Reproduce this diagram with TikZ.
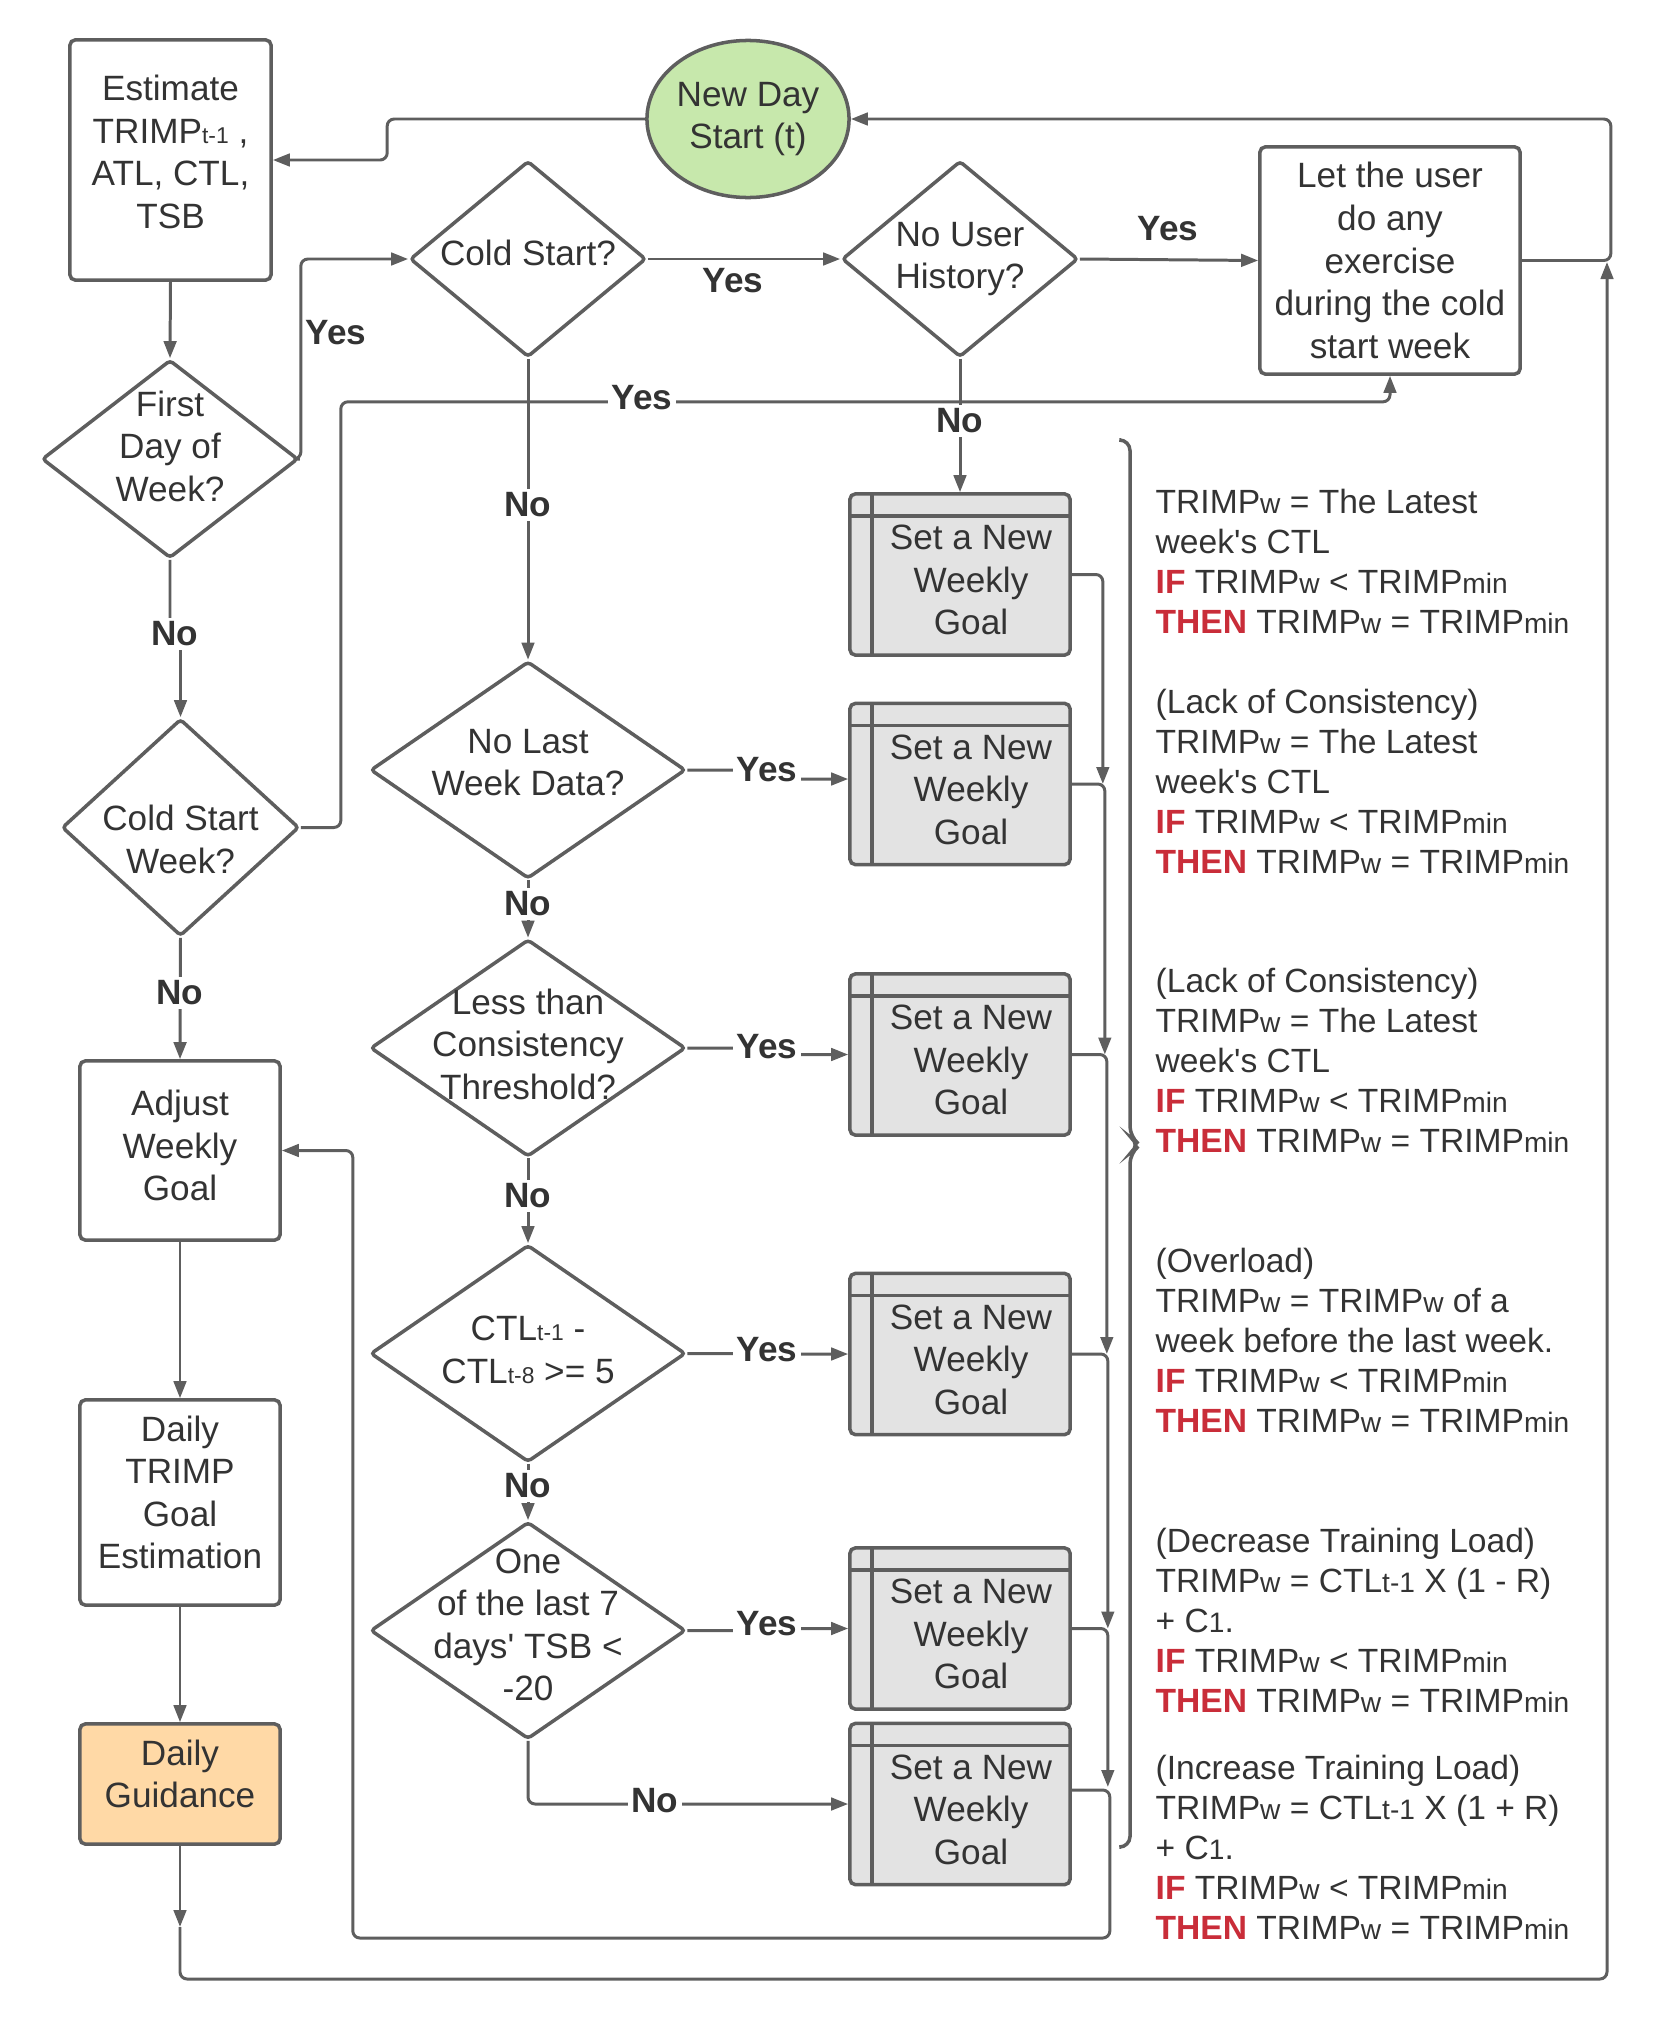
\documentclass[tikz,border=0pt]{standalone}
\usepackage{fontspec}
\setmainfont{Liberation Sans}
\usepackage{xcolor}
\usepackage{tikz}
\usetikzlibrary{shapes.geometric,arrows.meta,positioning,calc}
\definecolor{linegray}{HTML}{5E5E5E}
\definecolor{textgray}{HTML}{333333}
\definecolor{daygreen}{HTML}{C7E8AC}
\definecolor{guideorange}{HTML}{FFD9A6}
\definecolor{goalgray}{HTML}{E3E3E3}
\definecolor{ifred}{HTML}{C92D39}
\newcommand{\lowsub}[1]{{\fontsize{6.5}{6.5}\selectfont #1}}
\newcommand{\rulesub}[1]{{\fontsize{8}{8}\selectfont #1}}
\newcommand{\kwif}{\textcolor{ifred}{\textbf{IF}}}
\newcommand{\kwthen}{\textcolor{ifred}{\textbf{THEN}}}

\begin{document}
\begin{tikzpicture}[x=0.01cm, y=-0.01cm,
    every node/.style={text=textgray},
    txtbase/.style={font=\fontsize{10}{12.1}\selectfont, align=center},
    box/.style={txtbase, rectangle, rounded corners=1.5pt, draw=linegray, line width=1pt, inner sep=0pt},
    decision/.style={diamond, draw=linegray, line width=1pt, inner sep=0pt, rounded corners=1pt},
    dtext/.style={txtbase, inner sep=0pt},
    goalbox/.style={box, fill=goalgray, minimum width=2.2cm, minimum height=1.61cm,
        path picture={
            \draw[linegray, line width=1pt] ($(path picture bounding box.north west)+(0cm,-0.22cm)$) -- ($(path picture bounding box.north east)+(0cm,-0.22cm)$);
            \draw[linegray, line width=1pt] ($(path picture bounding box.north west)+(0.22cm,0cm)$) -- ($(path picture bounding box.south west)+(0.22cm,0cm)$);
        },
        label={[dtext, xshift=0.11cm, yshift=-0.055cm]center:{Set a New\\Weekly\\Goal}}},
    conn/.style={draw=linegray, line width=0.85pt, rounded corners=2pt},
    arr/.style={conn, -{Triangle[length=1.7mm, width=1.25mm]}},
    yn/.style={font=\fontsize{10}{12}\selectfont\bfseries, inner sep=1pt},
    ynw/.style={yn, fill=white},
    ruletext/.style={font=\fontsize{9.55}{11.43}\selectfont, align=left, anchor=north west, inner sep=0pt}
]
\useasboundingbox (0,0) rectangle (1654,2021);

% Daily loop
\node[ellipse, draw=linegray, line width=1pt, fill=daygreen, minimum width=2.02cm, minimum height=1.57cm, inner sep=0pt, txtbase] (nds) at (748,119) {New Day\\Start (t)};
\node[box, minimum width=2.01cm, minimum height=2.4cm, label={[dtext, yshift=0.08cm]center:{Estimate\\TRIMP\lowsub{t-1} ,\\ATL, CTL,\\TSB}}] (est) at (170.5,160) {};
\node[decision, minimum width=2.56cm, minimum height=1.98cm, label={[dtext, yshift=0.13cm]center:{First\\Day of\\Week?}}] (fdw) at (170,459) {};
\node[decision, minimum width=2.37cm, minimum height=2.17cm, label={[dtext, yshift=-0.12cm]center:{Cold Start\\Week?}}] (csw) at (180.5,827.5) {};
\node[box, minimum width=2cm, minimum height=1.79cm, label={[dtext, yshift=0.05cm]center:{Adjust\\Weekly\\Goal}}] (adj) at (180,1150.5) {};
\node[box, minimum width=2cm, minimum height=2.05cm, label={[dtext, yshift=0.1cm]center:{Daily\\TRIMP\\Goal\\Estimation}}] (dte) at (180,1502.5) {};
\node[box, fill=guideorange, minimum width=2cm, minimum height=1.2cm, label={[dtext, yshift=0.1cm]center:{Daily\\Guidance}}] (dg) at (180,1784) {};

% Cold start branch
\node[decision, minimum width=2.36cm, minimum height=1.96cm, label={[dtext, yshift=0.06cm]center:{Cold Start?}}] (cs) at (528,259) {};
\node[decision, minimum width=2.36cm, minimum height=1.96cm, label={[dtext]center:{No User\\History?}}] (nuh) at (960,259) {};
\node[box, minimum width=2.6cm, minimum height=2.27cm] (let) at (1390,260.5) {Let the user\\do any\\exercise\\during the cold\\start week};

% Weekly goal checks
\node[decision, minimum width=3.15cm, minimum height=2.17cm, label={[dtext, yshift=0.075cm]center:{No Last\\Week Data?}}] (nlw) at (528,770) {};
\node[decision, minimum width=3.15cm, minimum height=2.17cm, label={[dtext, yshift=0.04cm]center:{Less than\\Consistency\\Threshold?}}] (lct) at (528,1048) {};
\node[decision, minimum width=3.15cm, minimum height=2.17cm, label={[dtext, yshift=0.035cm]center:{CTL\lowsub{t-1} -\\CTL\lowsub{t-8} >= 5}}] (ctl) at (528,1353.5) {};
\node[decision, minimum width=3.15cm, minimum height=2.17cm, label={[dtext, yshift=0.055cm]center:{One\\of the last 7\\days\textquotesingle{} TSB <\\-20}}] (one) at (528,1630.5) {};

\node[goalbox] (goalA) at (960,574.5) {};
\node[goalbox] (goalB) at (960,784) {};
\node[goalbox] (goalC) at (960,1054.5) {};
\node[goalbox] (goalD) at (960,1354) {};
\node[goalbox] (goalE) at (960,1628.5) {};
\node[goalbox] (goalF) at (960,1804) {};

% Connectors
\coordinate (loopin) at (180,1927);
\coordinate (loopup) at (1607,262);
\draw[arr] (nds.west) -- ++(-258,0) |- (est.east);
\draw[arr] (est.south) -- (fdw.north);
\draw[arr] (fdw.east) -- ++(1,0) |- (cs.west);
\draw[arr] (cs.east) -- (nuh.west);
\draw[arr] (nuh.east) -- (let.west);
\draw[arr] (let.east) -- ++(89,0) |- (nds.east);
\draw[arr] (fdw.south) -- ++(0,75) -| (csw.north);
\draw[arr] (csw.east) -- ++(40,0) |- ($(let.south)+(0,26)$) -- (let.south);
\draw[arr] (csw.south) -- (adj.north);
\draw[arr] (adj.south) -- (dte.north);
\draw[arr] (dte.south) -- (dg.north);
\draw[arr] (dg.south) -- (loopin);
\draw[arr] (loopin) -- ++(0,52) -| (loopup);

\draw[arr] (cs.south) -- (nlw.north);
\draw[arr] (nuh.south) -- (goalA.north);
\draw[arr] (nlw.south) -- (lct.north);
\draw[arr] (lct.south) -- (ctl.north);
\draw[arr] (ctl.south) -- (one.north);
\draw[arr] (nlw.east) -- ++(81,0) |- ($(goalB.west)+(0,-5)$);
\draw[arr] (lct.east) -- ++(81,0) |- (goalC.west);
\draw[arr] (ctl.east) -- ++(81,0) |- (goalD.west);
\draw[arr] (one.east) -- ++(81,0) |- (goalE.west);
\draw[arr] (one.south) |- (goalF.west);

\draw[arr] (goalA.east) -| ($(goalB.east)+(31,0)$);
\draw[arr] (goalB.east) -| ($(goalC.east)+(33,0)$);
\draw[arr] (goalC.east) -| ($(goalD.east)+(35,0)$);
\draw[arr] (goalD.east) -| ($(goalE.east)+(36,0)$);
\draw[arr] (goalE.east) -| ($(goalF.east)+(36,-17)$);
\draw[arr] ($(goalF.east)+(0,-14)$) -- ++(38,0) -- ++(0,148) -| ($(adj.east)+(71,0)$) -- (adj.east);

% Yes / No labels
\node[yn] (yesFirst) at (336,333) {Yes};
\node[yn] (yesCold) at (733,281) {Yes};
\node[yn] (yesHist) at (1168,229) {Yes};
\node[ynw] (yesWeek) at (642,398) {Yes};
\node[ynw] (yesLast) at (767,770) {Yes};
\node[ynw] (yesCons) at (767,1047) {Yes};
\node[ynw] (yesCtl) at (767,1350) {Yes};
\node[ynw] (yesTsb) at (767,1624) {Yes};
\node[ynw] (noFirst) at (175,634) {No};
\node[ynw] (noWeek) at (180,993) {No};
\node[ynw] (noCold) at (528,505) {No};
\node[ynw] (noHist) at (960,421) {No};
\node[ynw] (noLast) at (528,904) {No};
\node[ynw] (noCons) at (528,1196) {No};
\node[ynw] (noCtl) at (528,1486) {No};
\node[ynw] (noTsb) at (655,1801) {No};

% Goal rules
\draw[conn, line width=1pt, rounded corners=3pt] (1121,440) -- (1130,440) -- (1130,1137) -- (1140,1145) -- (1130,1153) -- (1130,1847) -- (1121,1847);
\node[ruletext] (ruleA) at (1155,488) {TRIMP\rulesub{w} = The Latest\\week\textquotesingle{}s CTL\\\kwif{} TRIMP\rulesub{w} < TRIMP\rulesub{min}\\\kwthen{} TRIMP\rulesub{w} = TRIMP\rulesub{min}};
\node[ruletext] (ruleB) at (1155,688) {(Lack of Consistency)\\TRIMP\rulesub{w} = The Latest\\week\textquotesingle{}s CTL\\\kwif{} TRIMP\rulesub{w} < TRIMP\rulesub{min}\\\kwthen{} TRIMP\rulesub{w} = TRIMP\rulesub{min}};
\node[ruletext] (ruleC) at (1155,967) {(Lack of Consistency)\\TRIMP\rulesub{w} = The Latest\\week\textquotesingle{}s CTL\\\kwif{} TRIMP\rulesub{w} < TRIMP\rulesub{min}\\\kwthen{} TRIMP\rulesub{w} = TRIMP\rulesub{min}};
\node[ruletext] (ruleD) at (1155,1247) {(Overload)\\TRIMP\rulesub{w} = TRIMP\rulesub{w} of a\\week before the last week.\\\kwif{} TRIMP\rulesub{w} < TRIMP\rulesub{min}\\\kwthen{} TRIMP\rulesub{w} = TRIMP\rulesub{min}};
\node[ruletext] (ruleE) at (1155,1527) {(Decrease Training Load)\\TRIMP\rulesub{w} = CTL\rulesub{t-1} X (1 - R)\\+ C\rulesub{1}.\\\kwif{} TRIMP\rulesub{w} < TRIMP\rulesub{min}\\\kwthen{} TRIMP\rulesub{w} = TRIMP\rulesub{min}};
\node[ruletext] (ruleF) at (1155,1754) {(Increase Training Load)\\TRIMP\rulesub{w} = CTL\rulesub{t-1} X (1 + R)\\+ C\rulesub{1}.\\\kwif{} TRIMP\rulesub{w} < TRIMP\rulesub{min}\\\kwthen{} TRIMP\rulesub{w} = TRIMP\rulesub{min}};

\end{tikzpicture}
\end{document}
